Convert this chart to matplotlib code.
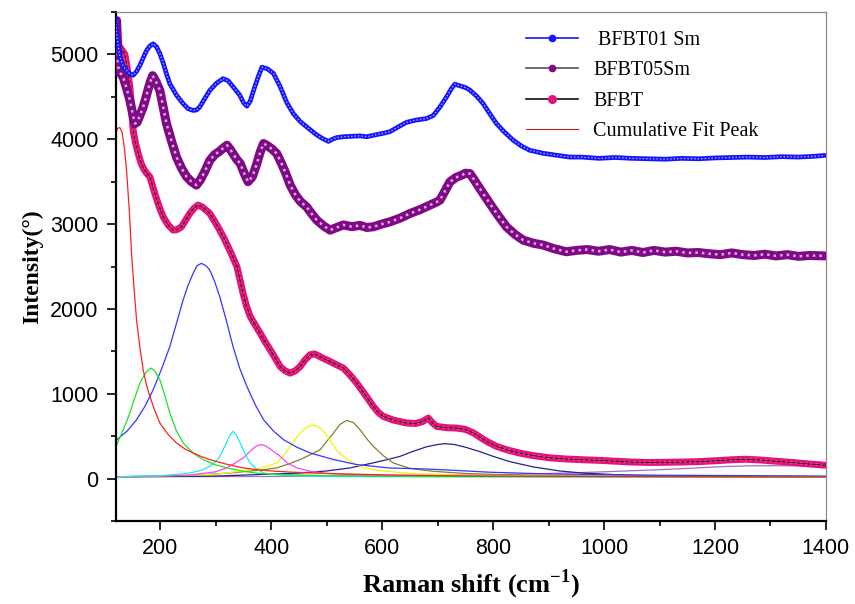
import matplotlib
matplotlib.use("Agg")
import matplotlib.pyplot as plt
from matplotlib.lines import Line2D
from matplotlib.ticker import MultipleLocator

plt.rcParams["mathtext.fontset"] = "custom"
plt.rcParams["mathtext.rm"] = "Liberation Serif"
plt.rcParams["mathtext.bf"] = "Liberation Serif:bold"

# ---------------- data ----------------
blue_x = [118, 121, 127, 133, 139, 145, 151, 157, 163, 169, 175, 181, 187, 193, 199, 205, 211, 217,
          229, 241, 250, 259, 265, 271, 280, 289, 301, 313, 322, 331, 343, 350, 356, 362, 368, 376,
          383, 393, 404, 416, 428, 440, 452, 464, 480, 492, 503, 510, 518, 530, 545, 560, 572, 590,
          605, 614, 630, 644, 660, 680, 692, 704, 716, 725, 731, 740, 750, 758, 770, 782, 794, 806,
          821, 836, 851, 866, 890, 914, 938, 960, 990, 1020, 1050, 1080, 1110, 1140, 1170, 1200,
          1230, 1260, 1290, 1320, 1350, 1380, 1398]
blue_y = [5440, 5240, 4970, 4860, 4810, 4770, 4755, 4800, 4870, 4960, 5045, 5100, 5125, 5090, 5010,
          4900, 4770, 4655, 4520, 4420, 4360, 4340, 4345, 4380, 4480, 4575, 4660, 4715, 4690, 4620,
          4520, 4430, 4390, 4450, 4575, 4730, 4850, 4830, 4775, 4620, 4430, 4300, 4210, 4145, 4060,
          4010, 3975, 4000, 4020, 4030, 4035, 4040, 4030, 4055, 4075, 4090, 4150, 4200, 4225, 4245,
          4280, 4380, 4500, 4600, 4650, 4630, 4610, 4580, 4510, 4420, 4300, 4185, 4080, 3990, 3920,
          3870, 3835, 3812, 3790, 3790, 3775, 3785, 3775, 3770, 3765, 3775, 3770, 3780, 3785, 3790,
          3785, 3795, 3790, 3800, 3810]

purple_x = [121, 123, 124, 128, 133, 139, 145, 150, 154, 158, 163, 169, 175, 181, 186, 192, 199, 205,
            211, 220, 229, 238, 247, 256, 265, 272, 280, 289, 298, 307, 314, 320, 326, 332, 338, 344,
            351, 358, 366, 374, 380, 386, 394, 402, 410, 418, 426, 434, 443, 452, 464, 473, 482, 494,
            506, 518, 530, 545, 560, 572, 584, 599, 614, 632, 650, 668, 686, 698, 704, 714, 722, 733,
            743, 750, 758, 764, 770, 782, 794, 809, 824, 839, 854, 872, 890, 910, 932, 950, 970, 990,
            1010, 1030, 1050, 1070, 1090, 1110, 1130, 1150, 1170, 1190, 1210, 1230, 1250, 1270, 1290,
            1310, 1330, 1350, 1370, 1398]
purple_y = [5400, 5100, 4850, 4780, 4730, 4600, 4460, 4300, 4185, 4200, 4280, 4380, 4520, 4660, 4750,
            4680, 4576, 4380, 4185, 3980, 3790, 3660, 3560, 3500, 3460, 3520, 3620, 3750, 3820, 3860,
            3900, 3930, 3880, 3820, 3760, 3714, 3600, 3500, 3560, 3714, 3850, 3950, 3920, 3880, 3830,
            3720, 3600, 3460, 3350, 3270, 3200, 3120, 3047, 2980, 2929, 2960, 2990, 2970, 2985, 2960,
            2968, 3000, 3027, 3070, 3125, 3170, 3224, 3260, 3282, 3400, 3498, 3550, 3576, 3600, 3596,
            3540, 3479, 3360, 3243, 3100, 2968, 2880, 2812, 2775, 2753, 2710, 2674, 2690, 2700, 2680,
            2700, 2670, 2690, 2665, 2690, 2670, 2680, 2660, 2665, 2650, 2640, 2660, 2640, 2630, 2645,
            2625, 2640, 2620, 2630, 2625]

pink_x = [123, 127, 132, 136, 140, 145, 151, 155, 160, 165, 170, 175, 181, 190, 198, 205, 214, 223,
          230, 238, 245, 253, 261, 268, 276, 283, 289, 298, 307, 315, 322, 330, 338, 344, 349, 355,
          362, 371, 380, 389, 398, 407, 416, 425, 434, 443, 452, 461, 470, 478, 490, 506, 518, 530,
          542, 554, 569, 584, 593, 602, 620, 644, 660, 672, 683, 690, 698, 716, 734, 750, 764, 776,
          788, 806, 824, 848, 872, 902, 932, 962, 992, 1020, 1050, 1080, 1110, 1140, 1170, 1200,
          1230, 1255, 1280, 1310, 1340, 1370, 1398]
pink_y = [5090, 5086, 5040, 5000, 4850, 4616, 4100, 3960, 3831, 3720, 3650, 3600, 3557, 3361, 3200,
          3086, 2990, 2929, 2935, 2968, 3040, 3125, 3190, 3224, 3200, 3160, 3125, 3030, 2929, 2830,
          2733, 2620, 2498, 2330, 2184, 2040, 1910, 1810, 1714, 1610, 1518, 1420, 1321, 1270, 1243,
          1270, 1321, 1400, 1460, 1470, 1430, 1380, 1340, 1302, 1220, 1126, 990, 851, 780, 733, 690,
          655, 650, 670, 714, 660, 616, 600, 596, 580, 540, 490, 439, 380, 341, 300, 271, 245, 231,
          222, 215, 205, 195, 190, 192, 195, 200, 210, 222, 228, 220, 205, 190, 172, 158]

# fitted peak components
red_x = [120, 123, 127, 131, 135, 139, 144, 148, 153, 157, 163, 169, 175, 181, 190, 199, 214, 229,
         244, 259, 274, 289, 319, 349, 380, 410, 440, 470, 530, 600, 700, 800, 1000, 1200, 1400]
red_y = [4080, 4130, 4137, 4080, 3900, 3635, 3150, 2655, 2200, 1870, 1550, 1282, 1100, 968, 800,
         655, 520, 420, 350, 302, 260, 224, 170, 126, 100, 86, 75, 67, 55, 45, 35, 30, 25, 22, 20]

green_x = [120, 130, 140, 145, 152, 158, 163, 170, 177, 183, 190, 199, 208, 217, 229, 241, 259, 277,
           298, 320, 350, 380, 420, 500, 600, 800, 1000, 1400]
green_y = [380, 530, 690, 773, 920, 1030, 1126, 1210, 1275, 1302, 1270, 1165, 980, 773, 560, 420,
           300, 224, 165, 126, 85, 60, 48, 35, 28, 24, 22, 20]

bluec_x = [120, 140, 157, 172, 187, 202, 217, 229, 241, 250, 259, 266, 274, 282, 289, 298, 307, 319,
           331, 343, 356, 371, 386, 404, 422, 446, 470, 512, 554, 613, 673, 722, 794, 900, 992, 1100,
           1250, 1400]
bluec_y = [451, 560, 694, 850, 1047, 1290, 1556, 1830, 2106, 2280, 2420, 2510, 2537, 2510, 2459, 2320,
           2145, 1860, 1556, 1300, 1086, 870, 694, 560, 459, 370, 302, 225, 165, 125, 115, 100, 75, 55,
           47, 40, 35, 30]

cyan_x = [120, 200, 240, 259, 275, 289, 300, 307, 313, 319, 325, 331, 337, 344, 350, 356, 362, 374,
          386, 400, 430, 500, 700, 1400]
cyan_y = [22, 35, 55, 74, 100, 145, 200, 262, 340, 420, 510, 557, 510, 420, 330, 250, 184, 110, 67,
          50, 35, 25, 20, 18]

magenta_x = [120, 250, 300, 319, 334, 349, 360, 370, 377, 383, 390, 400, 416, 430, 446, 470, 500,
             600, 800, 1400]
magenta_y = [20, 40, 80, 126, 180, 243, 310, 370, 395, 400, 385, 340, 262, 180, 126, 86, 60, 35, 25,
             20]

yellow_x = [120, 300, 380, 410, 422, 434, 444, 452, 462, 470, 476, 484, 494, 506, 512, 518, 530, 542,
            566, 602, 650, 750, 900, 1400]
yellow_y = [20, 50, 120, 184, 270, 380, 470, 537, 595, 625, 630, 615, 560, 450, 390, 330, 262, 204,
            126, 90, 60, 40, 30, 22]

olive_x = [120, 250, 326, 380, 410, 430, 452, 470, 488, 500, 512, 524, 536, 548, 560, 572, 584, 602,
           620, 650, 692, 750, 850, 1000, 1400]
olive_y = [20, 35, 67, 100, 126, 170, 224, 280, 341, 440, 537, 640, 686, 660, 576, 470, 380, 270, 184,
           120, 86, 60, 40, 30, 22]

navy_x = [120, 300, 450, 500, 542, 580, 610, 632, 655, 680, 700, 713, 730, 750, 775, 800, 830, 872,
          920, 962, 1041, 1100, 1200, 1400]
navy_y = [20, 30, 65, 90, 126, 180, 225, 262, 320, 375, 402, 412, 402, 370, 320, 262, 200, 138, 90,
          65, 40, 30, 24, 20]

violet_x = [120, 400, 600, 800, 900, 1000, 1100, 1150, 1212, 1260, 1300, 1350, 1400]
violet_y = [22, 25, 32, 45, 60, 80, 105, 120, 141, 150, 152, 150, 145]

legend_labels = [" BFBT01 Sm", "BFBT05Sm", "BFBT", "Cumulative Fit Peak"]
x_ticks = [200, 400, 600, 800, 1000, 1200, 1400]
y_ticks = [0, 1000, 2000, 3000, 4000, 5000]

# ---------------- figure ----------------
fig = plt.figure(figsize=(8.55, 6.04), dpi=100)
ax = fig.add_axes([0.1357, 0.1374, 0.8303, 0.8427])

comps = [
    (violet_x, violet_y, "#a070c8"),
    (navy_x, navy_y, "#22228c"),
    (olive_x, olive_y, "#80802a"),
    (yellow_x, yellow_y, "#f5f500"),
    (magenta_x, magenta_y, "#ff40ff"),
    (cyan_x, cyan_y, "#10f0f0"),
    (bluec_x, bluec_y, "#3535ff"),
    (green_x, green_y, "#22e022"),
    (red_x, red_y, "#ff2020"),
]
for cx, cy, col in comps:
    ax.plot(cx, cy, color=col, lw=0.9, zorder=2)


def bead(x, y, color, lw, inner, zorder):
    ax.plot(x, y, color=color, lw=lw, solid_capstyle="round", solid_joinstyle="round", zorder=zorder)
    ax.plot(x, y, color=inner, lw=lw * 0.28, ls=(0, (1.0, 1.6)), alpha=0.85, zorder=zorder + 0.1)


bead(pink_x, pink_y, "#e8107e", 5.0, "#ffd0e6", 3)
ax.plot(pink_x, pink_y, color="#5a1020", lw=0.8, zorder=3.5)
bead(purple_x, purple_y, "#800a86", 6.5, "#e8c8ea", 4)
bead(blue_x, blue_y, "#1414ff", 3.4, "#d8d8ff", 5)

ax.set_xlim(120, 1400)
ax.set_ylim(-500, 5500)
ax.set_xticks(x_ticks)
ax.set_yticks(y_ticks)
ax.xaxis.set_minor_locator(MultipleLocator(100))
ax.yaxis.set_minor_locator(MultipleLocator(500))

for side in ("left", "bottom"):
    ax.spines[side].set_linewidth(1.6)
    ax.spines[side].set_color("black")
for side in ("top", "right"):
    ax.spines[side].set_linewidth(0.9)
    ax.spines[side].set_color("#8a8a8a")

ax.tick_params(which="major", direction="out", length=6.5, width=1.2, pad=6,
               labelsize=15.5, top=False, right=False)
ax.tick_params(which="minor", direction="out", length=3.8, width=1.2, top=False, right=False)
for lab in ax.get_xticklabels() + ax.get_yticklabels():
    lab.set_family("Liberation Sans")

ax.set_xlabel("Raman shift (cm$^{\\mathbf{-1}}$)", family="Liberation Serif", fontweight="bold",
              fontsize=19, labelpad=6)
ax.set_ylabel("Intensity(°)", family="Liberation Serif", fontweight="bold", fontsize=17, labelpad=5)

handles = [
    Line2D([], [], color="#1414ff", lw=1.2, marker="o", ms=4.5, mfc="#1414ff", mec="#1414ff"),
    Line2D([], [], color="#555555", lw=1.2, marker="o", ms=4.5, mfc="#800a86", mec="#800a86"),
    Line2D([], [], color="#111111", lw=1.2, marker="o", ms=5.5, mfc="#e8107e", mec="#e8107e"),
    Line2D([], [], color="#c02020", lw=0.8),
]
leg = ax.legend(handles, legend_labels, loc="upper left", bbox_to_anchor=(0.557, 0.99),
                frameon=False, prop={"family": "Liberation Serif", "size": 14.5},
                handlelength=2.6, handletextpad=0.75, labelspacing=0.55, borderpad=0.2)

fig.savefig("out.png", dpi=100)
